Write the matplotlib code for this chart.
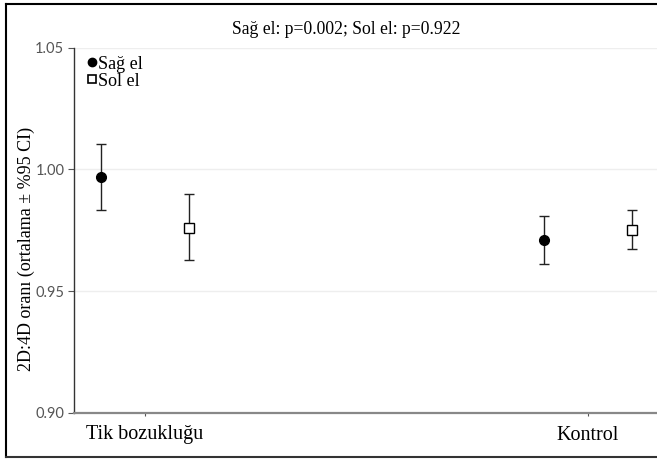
import matplotlib
matplotlib.use("Agg")
import matplotlib.pyplot as plt
from matplotlib.lines import Line2D
from matplotlib.font_manager import FontProperties
import numpy as np

groups = ["Tik bozukluğu", "Kontrol"]
series = ["Sağ el", "Sol el"]
right_mean = [0.997, 0.971]
right_low = [0.9835, 0.9613]
right_high = [1.0102, 0.9809]
left_mean = [0.976, 0.975]
left_low = [0.9627, 0.9671]
left_high = [0.9898, 0.9832]
yticks = [0.90, 0.95, 1.00, 1.05]
title = "Sağ el: p=0.002; Sol el: p=0.922"
ylabel = "2D:4D oranı (ortalama ± %95 CI)"

SERIF = "Liberation Serif"
plt.rcParams["font.family"] = [SERIF, "DejaVu Serif"]
fig = plt.figure(figsize=(6.57, 4.59), dpi=100)
ax = fig.add_axes([74/657, 1-413/459, 1-74/657, (413-47.5)/459])

x = np.arange(len(groups))
off = 0.1
ec = "#222222"
rm = np.array(right_mean); lm = np.array(left_mean)
ax.errorbar(x - off, rm, yerr=[rm - np.array(right_low), np.array(right_high) - rm],
            fmt="o", color="black", ecolor=ec, elinewidth=1.0, capsize=3.5, capthick=1.0,
            markersize=7, zorder=3)
ax.errorbar(x + off, lm, yerr=[lm - np.array(left_low), np.array(left_high) - lm],
            fmt="s", mfc="white", mec="black", mew=1.0, ecolor=ec, elinewidth=1.0,
            capsize=3.5, capthick=1.0, markersize=6.5, zorder=3)

ax.set_xlim(-0.16, 1.156)
ax.set_ylim(0.90, 1.05)
ax.tick_params(axis="x", length=2, width=0.8, color="#555555", pad=7, labelcolor="black")
ax.tick_params(axis="y", length=4, width=0.8, color="#555555", pad=3, labelcolor="#555555")
ax.set_yticks(yticks, [f"{v:.2f}" for v in yticks])
ax.set_xticks(x, groups)
for v in yticks[1:]:
    ax.axhline(v, color="#eeeeee", lw=1.0, zorder=0)
ax.spines["top"].set_visible(False)
ax.spines["right"].set_visible(False)
ax.spines["left"].set_color("#333333")
ax.spines["bottom"].set_color("#888888")
ax.spines["bottom"].set_linewidth(1.6)
ax.spines["left"].set_linewidth(1.0)

ax.set_ylabel(ylabel, fontsize=13, fontfamily=SERIF)
ax.yaxis.set_label_coords(-(74-35)/583, 1-(248.5-47.5)/365.5)
fig.text(346/657, 1-30/459, title, ha="center", va="center", fontsize=12.7, fontfamily=SERIF)

handles = [Line2D([0], [0], marker="o", color="black", ls="none", markersize=6),
           Line2D([0], [0], marker="s", mfc="white", mec="black", ls="none", markersize=5.5, mew=1.2)]
leg = ax.legend(handles, series, loc="upper left", bbox_to_anchor=(0.01, 1.0),
                frameon=False, prop={"family": SERIF, "size": 13},
                handlelength=0.5, handletextpad=0.05, labelspacing=0.0, borderaxespad=0.25,
                borderpad=0.2)

# figure border (top, left, bottom)
fig.add_artist(Line2D([6/657, 1], [1-4/459, 1-4/459], color="black", lw=1.5, transform=fig.transFigure))
fig.add_artist(Line2D([6/657, 6/657], [1-4/459, 1-457/459], color="black", lw=1.5, transform=fig.transFigure))
fig.add_artist(Line2D([6/657, 1], [1-457/459, 1-457/459], color="#333333", lw=1.5, transform=fig.transFigure))

fig.canvas.draw()
for t in ax.xaxis.get_major_ticks():
    t.label1.set_fontproperties(FontProperties(family=SERIF, size=14.5))
for t in ax.yaxis.get_major_ticks():
    t.label1.set_fontproperties(FontProperties(family="Lato", size=10.5))

fig.savefig("out.png", dpi=100)
